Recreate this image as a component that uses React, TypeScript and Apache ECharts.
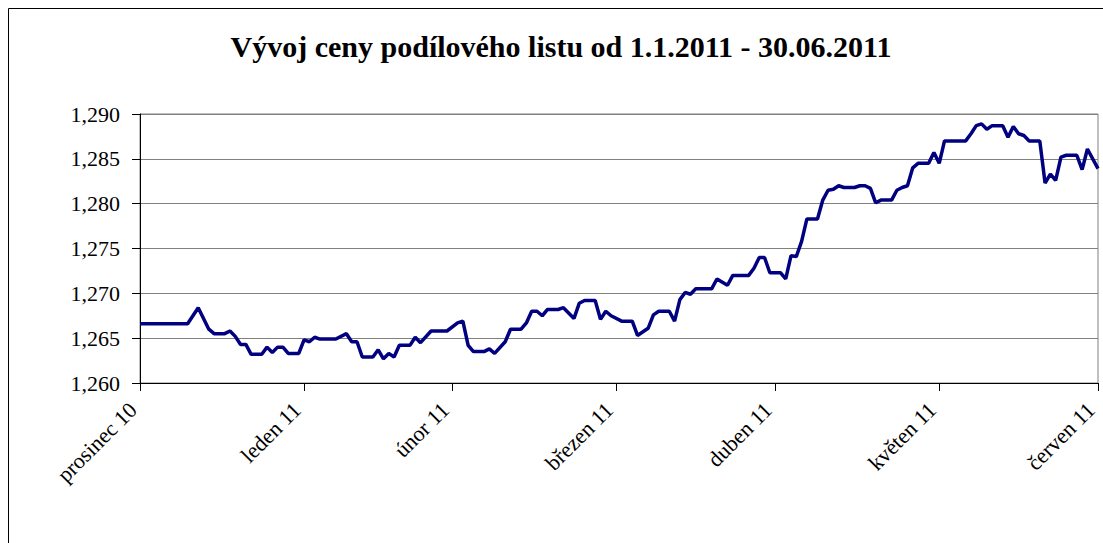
import React, { useEffect, useRef } from "react";
import * as echarts from "echarts";

const titleText = "Vývoj ceny podílového listu od 1.1.2011 - 30.06.2011";

// x-axis month tick labels (one per month start, Jan 1 .. Jul 1)
const monthLabels = [
  "prosinec 10",
  "leden 11",
  "únor 11",
  "březen 11",
  "duben 11",
  "květen 11",
  "červen 11",
];

const yTicks = { min: 1.26, max: 1.29, step: 0.005 };

const dates = [
  "2011-01-01", "2011-01-10", "2011-01-12", "2011-01-14", "2011-01-15", "2011-01-17",
  "2011-01-18", "2011-01-19", "2011-01-20", "2011-01-21", "2011-01-22", "2011-01-24",
  "2011-01-25", "2011-01-26", "2011-01-27", "2011-01-28", "2011-01-29", "2011-01-31",
  "2011-02-01", "2011-02-02", "2011-02-03", "2011-02-04", "2011-02-07", "2011-02-09",
  "2011-02-10", "2011-02-11", "2011-02-12", "2011-02-14", "2011-02-15", "2011-02-16",
  "2011-02-17", "2011-02-18", "2011-02-19", "2011-02-21", "2011-02-22", "2011-02-23",
  "2011-02-25", "2011-02-28", "2011-03-02", "2011-03-03", "2011-03-04", "2011-03-05",
  "2011-03-07", "2011-03-08", "2011-03-09", "2011-03-11", "2011-03-12", "2011-03-14",
  "2011-03-15", "2011-03-16", "2011-03-17", "2011-03-18", "2011-03-19", "2011-03-21",
  "2011-03-22", "2011-03-24", "2011-03-25", "2011-03-26", "2011-03-28", "2011-03-29",
  "2011-03-30", "2011-03-31", "2011-04-02", "2011-04-04", "2011-04-05", "2011-04-07",
  "2011-04-08", "2011-04-09", "2011-04-11", "2011-04-12", "2011-04-13", "2011-04-14",
  "2011-04-15", "2011-04-16", "2011-04-19", "2011-04-20", "2011-04-22", "2011-04-23",
  "2011-04-26", "2011-04-27", "2011-04-28", "2011-04-29", "2011-04-30", "2011-05-02",
  "2011-05-03", "2011-05-04", "2011-05-05", "2011-05-06", "2011-05-07", "2011-05-09",
  "2011-05-10", "2011-05-11", "2011-05-12", "2011-05-13", "2011-05-14", "2011-05-16",
  "2011-05-17", "2011-05-18", "2011-05-19", "2011-05-20", "2011-05-21", "2011-05-23",
  "2011-05-24", "2011-05-25", "2011-05-26", "2011-05-27", "2011-05-28", "2011-05-30",
  "2011-05-31", "2011-06-01", "2011-06-02", "2011-06-06", "2011-06-07", "2011-06-08",
  "2011-06-09", "2011-06-10", "2011-06-11", "2011-06-13", "2011-06-14", "2011-06-15",
  "2011-06-16", "2011-06-17", "2011-06-18", "2011-06-20", "2011-06-21", "2011-06-22",
  "2011-06-23", "2011-06-24", "2011-06-25", "2011-06-27", "2011-06-28", "2011-06-29",
  "2011-07-01",
];

const prices = [
  1.2666, 1.2666, 1.2684, 1.266, 1.2655, 1.2655,
  1.2658, 1.2652, 1.2643, 1.2643, 1.2632, 1.2632,
  1.264, 1.2634, 1.264, 1.264, 1.2633, 1.2633,
  1.2648, 1.2646, 1.2651, 1.2649, 1.2649, 1.2655,
  1.2646, 1.2646, 1.2629, 1.2629, 1.2637, 1.2627,
  1.2633, 1.2629, 1.2642, 1.2642, 1.2651, 1.2645,
  1.2658, 1.2658, 1.2667, 1.2669, 1.2642, 1.2635,
  1.2635, 1.2638, 1.2633, 1.2646, 1.266, 1.266,
  1.2667, 1.268, 1.268, 1.2675, 1.2682, 1.2682,
  1.2684, 1.2672, 1.2689, 1.2692, 1.2692, 1.2671,
  1.268, 1.2675, 1.2669, 1.2669, 1.2653, 1.2661,
  1.2676, 1.268, 1.268, 1.2669, 1.2693, 1.2701,
  1.2699, 1.2705, 1.2705, 1.2716, 1.2709, 1.272,
  1.272, 1.2728, 1.274, 1.274, 1.2723, 1.2723,
  1.2716, 1.2742, 1.2741, 1.2758, 1.2783, 1.2783,
  1.2804, 1.2815, 1.2816, 1.282, 1.2818, 1.2818,
  1.282, 1.282, 1.2817, 1.2801, 1.2804, 1.2804,
  1.2815, 1.2818, 1.282, 1.284, 1.2845, 1.2845,
  1.2857, 1.2845, 1.287, 1.287, 1.2878, 1.2887,
  1.2889, 1.2883, 1.2887, 1.2887, 1.2874, 1.2886,
  1.2878, 1.2876, 1.287, 1.287, 1.2823, 1.2833,
  1.2826, 1.2852, 1.2854, 1.2854, 1.2838, 1.2861,
  1.2839,
];

// calendar day categories for the date axis
const categories: string[] = [];
for (let i = 0; i <= 181; i++) {
  categories.push(new Date(Date.UTC(2011, 0, 1 + i)).toISOString().slice(0, 10));
}

const FONT = "'Liberation Serif', 'Times New Roman', serif";

export default function App() {
  const ref = useRef<HTMLDivElement>(null);
  useEffect(() => {
    document.body.style.margin = "0";
    document.body.style.overflow = "hidden";
    if (!ref.current) return;
    const chart = echarts.init(ref.current, null, { renderer: "svg" });
    const isMonthStart = (_i: number, v: string) => String(v).endsWith("-01");
    chart.setOption({
      animation: false,
      backgroundColor: "#ffffff",
      graphic: [
        {
          type: "rect",
          shape: { x: 8.5, y: 8.5, width: 1200, height: 700 },
          style: { fill: "none", stroke: "#000000", lineWidth: 1 },
          silent: true,
        },
        {
          type: "text",
          x: 561,
          y: 46,
          style: {
            text: titleText,
            fontFamily: FONT,
            fontSize: 30,
            fontWeight: "bold",
            fill: "#000000",
            align: "center",
            verticalAlign: "middle",
          },
        },
      ],
      grid: {
        left: 140,
        top: 114,
        width: 958,
        height: 269,
        show: true,
        borderColor: "#808080",
        borderWidth: 1,
        containLabel: false,
      },
      xAxis: {
        type: "category",
        data: categories,
        boundaryGap: false,
        axisLine: { lineStyle: { color: "#000000", width: 1 } },
        axisTick: {
          show: true,
          interval: isMonthStart,
          length: 8,
          lineStyle: { color: "#000000" },
        },
        axisLabel: {
          interval: isMonthStart,
          rotate: 45,
          margin: 16,
          padding: [0, 10, 0, 0],
          fontFamily: FONT,
          fontSize: 22,
          color: "#000000",
          formatter: (v: string) => monthLabels[Number(v.slice(5, 7)) - 1],
        },
        splitLine: { show: false },
      },
      yAxis: {
        type: "value",
        min: yTicks.min,
        max: yTicks.max,
        interval: yTicks.step,
        axisLine: { show: true, lineStyle: { color: "#000000", width: 1 } },
        axisTick: { show: true, length: 8, lineStyle: { color: "#000000" } },
        axisLabel: {
          margin: 20,
          fontFamily: FONT,
          fontSize: 22,
          color: "#000000",
          formatter: (v: number) => v.toFixed(3).replace(".", ","),
        },
        splitLine: { show: true, lineStyle: { color: "#808080", width: 1 } },
      },
      series: [
        {
          type: "line",
          data: dates.map((d, i) => [categories.indexOf(d), prices[i]]),
          symbol: "none",
          lineStyle: { color: "#000080", width: 3.5 },
          itemStyle: { color: "#000080" },
        },
      ],
    });
    return () => chart.dispose();
  }, []);
  return <div ref={ref} style={{ width: 1103, height: 543 }} />;
}
